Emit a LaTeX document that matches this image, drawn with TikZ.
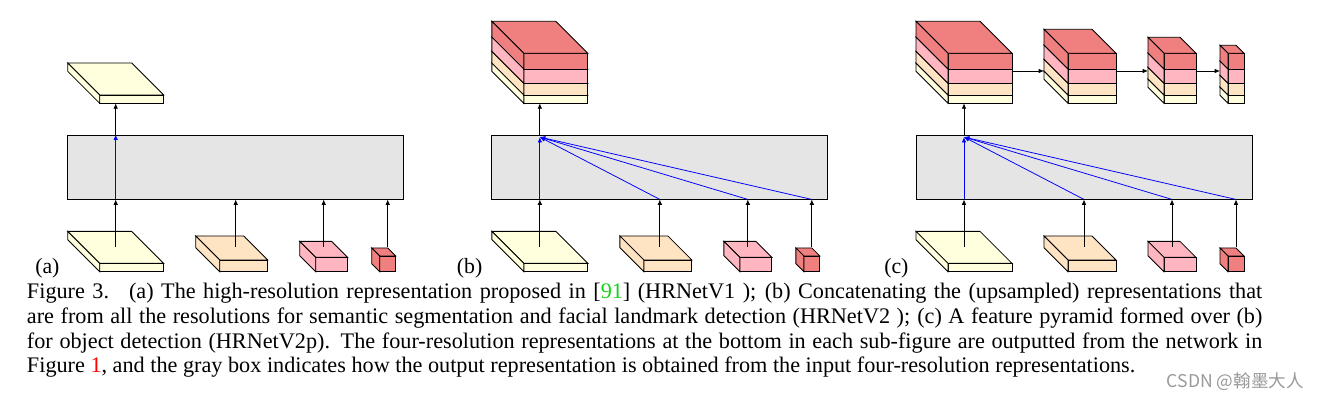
\documentclass[tikz,border=0pt]{standalone}
\usepackage{fontspec}
\setmainfont{Liberation Serif}
\newfontfamily\cjkfont{Noto Sans CJK SC}
\usepackage{tikz}
\usetikzlibrary{arrows.meta}
\usetikzlibrary{calc}
\usetikzlibrary{positioning}

\definecolor{resyellow}{RGB}{255,255,222}
\definecolor{respeach}{RGB}{255,228,196}
\definecolor{respink}{RGB}{255,182,193}
\definecolor{resred}{RGB}{240,128,128}
\definecolor{boxgray}{RGB}{229,229,229}
\definecolor{citegreen}{RGB}{20,210,20}

% one slab: front left x, front bottom y, depth, thickness, fill
\newcommand{\slab}[5]{%
	\filldraw[slabline, fill=#5] (#1,#2) rectangle ++({2*#3},{-#4});
	\filldraw[slabline, fill=#5] (#1,{#2-#4}) -- ++(-#3,-#3) -- ++({2*#3},0) -- ++(#3,#3) -- cycle;
	\filldraw[slabline, fill=#5] (#1,#2) -- ++(-#3,-#3) -- ++(0,-#4) -- ++(#3,#3) -- cycle;
}
% four slabs on top of each other
\newcommand{\resstack}[3]{%
	\slab{#1}{#2}{#3}{8.3}{resyellow}
	\slab{#1}{#2-8.3}{#3}{11.7}{respeach}
	\slab{#1}{#2-20}{#3}{14.3}{respink}
	\slab{#1}{#2-34.3}{#3}{15.7}{resred}
}

\tikzset{
	slabline/.style={line width=0.6pt, draw=black},
	graybox/.style={draw, line width=0.6pt, fill=boxgray, minimum width=8.4cm, minimum height=1.6cm, inner sep=0pt},
	arr/.style={line width=0.55pt, -{Latex[length=3.8pt,width=3.2pt]}},
	bluearr/.style={arr, blue},
	sublabel/.style={anchor=base west, inner sep=0pt, font=\fontsize{15.5}{17}\selectfont},
}

\begin{document}
\begin{tikzpicture}[x=0.025cm, y=-0.025cm]
	\useasboundingbox (0,0) rectangle (1318,400);

	% the three sub-figures share the input part
	\foreach \p/\ox/\lx in {a/67.7/35, b/491.85/456.7, c/916/884}{
		\node[graybox] (box-\p) at ({\ox+168},167) {};
		\slab{\ox+32}{271.7}{32}{8.3}{resyellow}
		\slab{\ox+152}{271.7}{24}{11.7}{respeach}
		\slab{\ox+248}{271.7}{16}{14.3}{respink}
		\slab{\ox+312}{271.7}{8}{15.7}{resred}
		\coordinate (in1-\p) at ({\ox+48},247);
		\coordinate (in2-\p) at ({\ox+168},247);
		\coordinate (in3-\p) at ({\ox+256},247);
		\coordinate (in4-\p) at ({\ox+320},247);
		\coordinate (out-\p) at ({\ox+48},103.3);
		\foreach \i in {1,2,3,4}
			\draw[arr] (in\i-\p) -- (in\i-\p |- box-\p.south);
		\draw[arr] (out-\p |- box-\p.north) -- (out-\p);
		\node[sublabel] (lab-\p) at (\lx,273.3) {(\p)};
	}

	% (a) HRNetV1
	\slab{99.7}{103.3}{32}{8.3}{resyellow}
	\draw[bluearr] (in1-a |- box-a.south) -- (in1-a |- box-a.north);

	% (b) HRNetV2
	\resstack{523.85}{103.3}{32}
	\coordinate (merge-b) at ($(box-b.north -| out-b)+(0,2.5)$);
	\foreach \i in {1,2,3,4}
		\draw[bluearr] (in\i-b |- box-b.south) -- (merge-b);

	% (c) HRNetV2p
	\resstack{948}{103.3}{32}
	\resstack{1068}{103.3}{24}
	\resstack{1164}{103.3}{16}
	\resstack{1228}{103.3}{8}
	\coordinate (merge-c) at ($(box-c.north -| out-c)+(0,2.5)$);
	\foreach \i in {1,2,3,4}
		\draw[bluearr] (in\i-c |- box-c.south) -- (merge-c);
	\coordinate (p1) at (1012,71);
	\coordinate (p2) at (1044,71);
	\coordinate (p3) at (1116,71);
	\coordinate (p4) at (1148,71);
	\coordinate (p5) at (1196,71);
	\coordinate (p6) at (1220,71);
	\draw[arr] (p1) -- (p2);
	\draw[arr] (p3) -- (p4);
	\draw[arr] (p5) -- (p6);

	\node[anchor=base west, inner sep=0pt, text width=30.875cm, align=justify, font=\fontsize{15.8}{17.6}\selectfont] (caption) at (26.7,298.7)
		{Figure 3.\hskip 0.9em(a) The high-resolution representation proposed in [\textcolor{citegreen}{91}] (HRNetV1 ); (b) Concatenating the (upsampled) representations that\linebreak
		are from all the resolutions for semantic segmentation and facial landmark detection (HRNetV2 ); (c) A feature pyramid formed over (b)\linebreak
		for object detection (HRNetV2p). The four-resolution representations at the bottom in each sub-figure are outputted from the network in\linebreak
		Figure \textcolor{red}{1}, and the gray box indicates how the output representation is obtained from the input four-resolution representations.};
	\node[anchor=west, inner sep=0pt, text=black!40, font=\cjkfont\fontsize{12.5}{12.5}\selectfont] (mark) at (1166.7,381.7) {CSDN @翰墨大人};
\end{tikzpicture}
\end{document}
